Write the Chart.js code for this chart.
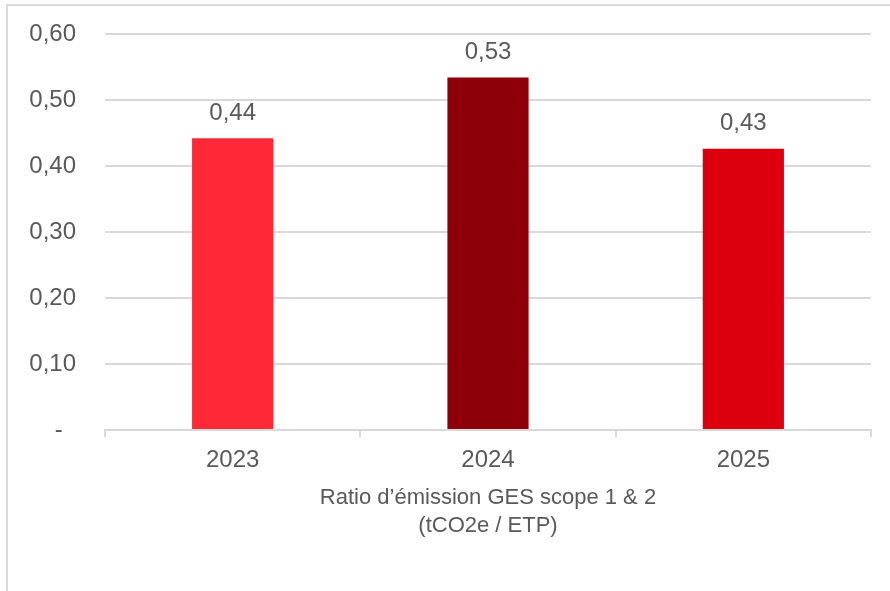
<!DOCTYPE html>
<html>
<head>
<meta charset="utf-8">
<script src="https://cdn.jsdelivr.net/npm/chart.js@4/dist/chart.umd.min.js"></script>
<style>
    html, body { margin: 0; padding: 0; background: #ffffff; overflow: hidden; }
    #wrap { position: relative; width: 890px; height: 591px; }
    #frame {
        position: absolute; left: 6px; top: 4px;
        width: 1000px; height: 1000px;
        border: 2px solid #d9d9d9; box-sizing: border-box;
    }
    #ratioChart { position: absolute; left: 0; top: 0; }
</style>
</head>
<body>
<div id="wrap">
    <div id="frame"></div>
    <canvas id="ratioChart" width="890" height="591"></canvas>
</div>
<script>
// ================================
// Ratio GES scope 1 & 2 chart
// ================================

const years = ["2023", "2024", "2025"];
const ratios = [0.442, 0.534, 0.426];
const barColors = ["#ff2837", "#8e0009", "#dc000e"];
const yTicks = [0, 0.1, 0.2, 0.3, 0.4, 0.5, 0.6];
const axisTitle = ["Ratio d\u2019émission GES scope 1 & 2", "(tCO2e / ETP)"];

const textColor = "#595959";
const gridColor = "#d9d9d9";
const fontFamily = "'Liberation Sans', Arial, sans-serif";

function frNumber(v) {
    return v.toFixed(2).replace(".", ",");
}

// value labels above each bar
const valueLabels = {
    id: "valueLabels",
    afterDatasetsDraw(chart) {
        const c = chart.ctx;
        const meta = chart.getDatasetMeta(0);
        c.save();
        c.font = "24px " + fontFamily;
        c.fillStyle = textColor;
        c.textAlign = "center";
        c.textBaseline = "middle";
        meta.data.forEach((bar, i) => {
            c.fillText(frNumber(ratios[i]), bar.x, bar.y - 25);
        });
        c.restore();
    }
};

const ctx = document.getElementById("ratioChart");

new Chart(ctx, {

    type: "bar",

    data: {
        labels: years,
        datasets: [{
            data: ratios,
            backgroundColor: barColors,
            borderWidth: 0,
            categoryPercentage: 1,
            barPercentage: 0.318
        }]
    },

    plugins: [valueLabels],

    options: {
        responsive: false,
        animation: false,
        events: [],
        layout: {
            padding: { top: 34, right: 19, left: 0, bottom: 0 }
        },
        plugins: {
            legend: { display: false },
            tooltip: { enabled: false }
        },
        scales: {
            x: {
                grid: {
                    offset: true,
                    drawOnChartArea: false,
                    drawTicks: true,
                    tickLength: 7,
                    color: gridColor,
                    lineWidth: 2
                },
                border: { display: true, color: gridColor, width: 2 },
                ticks: {
                    color: textColor,
                    font: { family: fontFamily, size: 24 },
                    padding: 9
                },
                title: {
                    display: true,
                    text: axisTitle,
                    color: textColor,
                    font: { family: fontFamily, size: 22, lineHeight: 1.27 },
                    padding: { top: 0, bottom: 51 }
                },
                afterFit(scale) {
                    scale.height = 161;
                    scale.paddingLeft = 0;
                    scale.paddingRight = 0;
                }
            },
            y: {
                min: 0,
                max: 0.6,
                afterBuildTicks(scale) {
                    scale.ticks = yTicks.map(v => ({ value: v }));
                },
                grid: {
                    color: gridColor,
                    lineWidth: 2,
                    drawTicks: false
                },
                border: { display: false },
                ticks: {
                    color: textColor,
                    font: { family: fontFamily, size: 24 },
                    padding: 29,
                    callback: v => v === 0 ? "-  " : frNumber(v)
                },
                afterFit(scale) {
                    scale.width = 105;
                    scale.paddingTop = 0;
                    scale.paddingBottom = 0;
                }
            }
        }
    }

});
</script>
</body>
</html>
